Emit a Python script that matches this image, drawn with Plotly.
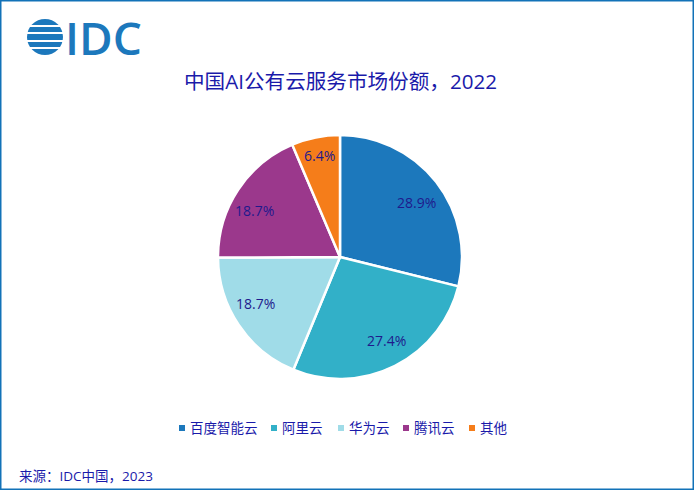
import math

import plotly.graph_objects as go

# Market share data.
vendors = ["百度智能云", "阿里云", "华为云", "腾讯云", "其他"]
shares = [28.9, 27.4, 18.7, 18.7, 6.4]
share_labels = ["28.9%", "27.4%", "18.7%", "18.7%", "6.4%"]
colors = ["#1C78BC", "#32B0C8", "#A0DCE8", "#9B388C", "#F57D1A"]

chart_title = "中国AI公有云服务市场份额，2022"
source_text = "来源：IDC中国，2023"
logo_text = "IDC"

W, H = 694, 490
FONT = "'Open Sans', 'Noto Sans CJK SC', sans-serif"
TEXT_BLUE = "#1A1AAA"
IDC_BLUE = "#1C78BC"

# Pie geometry, in page pixels.
CX, CY, R = 340, 257, 122
label_radius = [95, 95, 97, 97, 103]
# The labels are not quite on the mid angle in the original, nudge them (px).
label_nudge_x = [2, 4, -4, -4, 0]
label_nudge_y = [4, -1, -8, 7, -1]

# Hand placed legend, marker x for each entry.
legend_x = [182, 274, 341, 406, 472]
LEGEND_Y = 428


def px_x(x):
    return x / W


def px_y(y):
    return 1 - y / H


fig = go.Figure(go.Pie(
    labels=vendors, values=shares,
    textinfo="none", sort=False, direction="clockwise", rotation=0,
    showlegend=False,
    marker=dict(colors=colors, line=dict(color="white", width=2.5)),
    domain=dict(x=[px_x(CX - R), px_x(CX + R)], y=[px_y(CY + R), px_y(CY - R)]),
))

# Frame and the globe part of the logo.
shapes = [dict(type="rect", xref="paper", yref="paper", x0=0, x1=1, y0=0, y1=1,
               line=dict(color="#1272B8", width=3), fillcolor="rgba(0,0,0,0)"),
          dict(type="circle", xref="paper", yref="paper",
               x0=px_x(27), x1=px_x(63), y0=px_y(55), y1=px_y(19),
               line=dict(width=0), fillcolor=IDC_BLUE)]
for y0, y1 in [(25, 27), (32, 34), (40, 42), (47, 49)]:
    shapes.append(dict(type="rect", xref="paper", yref="paper",
                       x0=px_x(26), x1=px_x(64), y0=px_y(y1), y1=px_y(y0),
                       line=dict(width=0), fillcolor="white"))

annotations = [
    dict(text=chart_title, x=px_x(340), y=px_y(81), yanchor="middle", showarrow=False,
         font=dict(family=FONT, size=20.6, color=TEXT_BLUE)),
    dict(text=source_text, x=px_x(16.5), y=px_y(476), xanchor="left", yanchor="middle",
         showarrow=False, font=dict(family=FONT, size=13.5, color=TEXT_BLUE)),
    dict(text=logo_text, x=px_x(63), y=px_y(37), xanchor="left", yanchor="middle",
         showarrow=False,
         font=dict(family="'Open Sans', sans-serif", size=46, weight=600, color=IDC_BLUE)),
]

# Percent labels sit further out than plotly's inside text, so place them by mid angle.
total = sum(shares)
running = 0
for i, share in enumerate(shares):
    angle = 2 * math.pi * (running + share / 2) / total
    running += share
    annotations.append(dict(
        text=share_labels[i], showarrow=False, yanchor="middle",
        x=px_x(CX + label_radius[i] * math.sin(angle) + label_nudge_x[i]),
        y=px_y(CY - label_radius[i] * math.cos(angle) + label_nudge_y[i]),
        font=dict(family=FONT, size=14, color="#1F1A8C")))

# Legend.
for name, color, x in zip(vendors, colors, legend_x):
    shapes.append(dict(type="rect", xref="paper", yref="paper",
                       x0=px_x(x - 3), x1=px_x(x + 3),
                       y0=px_y(LEGEND_Y + 3), y1=px_y(LEGEND_Y - 3),
                       line=dict(width=0), fillcolor=color))
    annotations.append(dict(text=name, x=px_x(x + 6), y=px_y(LEGEND_Y), xanchor="left",
                            yanchor="middle", showarrow=False,
                            font=dict(family=FONT, size=13.5, color=TEXT_BLUE)))

fig.update_layout(
    width=W, height=H, autosize=False,
    margin=dict(l=0, r=0, t=0, b=0),
    paper_bgcolor="white",
    shapes=shapes, annotations=annotations,
)

fig.write_html("out.html", config={"displayModeBar": False},
               post_script="document.body.style.margin = '0';")
